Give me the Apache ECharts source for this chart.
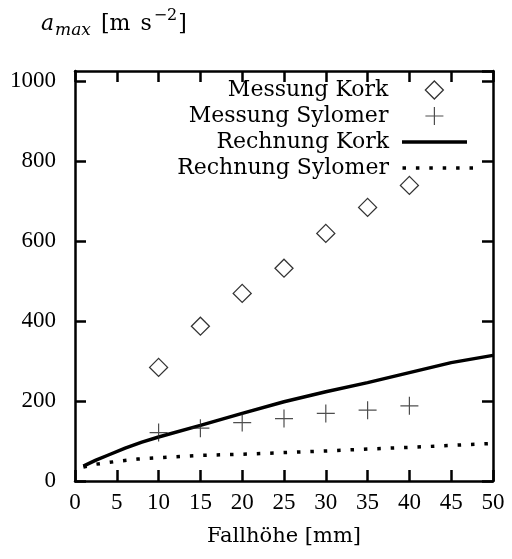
<!DOCTYPE html>
<html>
<head>
<meta charset="utf-8">
<script src="https://cdn.jsdelivr.net/npm/echarts@6.0.0/dist/echarts.min.js"></script>
<style>
  html, body { margin: 0; padding: 0; background: #fff; }
  #chart { width: 512px; height: 559px; }
</style>
</head>
<body>
<div id="chart"></div>
<script>
// Messwerte (Fallhöhe in mm)
var measX = [10, 15, 20, 25, 30, 35, 40];
var measKork = [284, 387, 469, 532, 619, 684, 739];
var measSylomer = [121, 132, 146, 156, 169, 177, 188];

// Rechnung
var calcKorkX = [1, 2.5, 4, 6, 8, 10, 15, 20, 25, 30, 35, 40, 45, 50];
var calcKork = [37, 52, 65, 82, 97, 110, 139, 169, 198, 223, 246, 271, 296, 314];
var calcSylX = [1, 2.5, 5, 7.5, 10, 15, 20, 25, 30, 35, 40, 45, 50];
var calcSylomer = [35, 42, 49, 55, 58, 64, 67, 71, 75, 80, 84, 89, 94];

function pairs(xs, ys) {
  return xs.map(function (x, i) { return [x, ys[i]]; });
}

var serif = "'DejaVu Serif', serif";
var numFont = "'Liberation Serif', serif";
var plusPath = 'path://M0,9H18M9,0V18';
var dotsPath = 'path://M0,0h3.5v3.5h-3.5zM13.4,0h3.5v3.5h-3.5zM26.8,0h3.5v3.5h-3.5zM40.2,0h3.5v3.5h-3.5zM53.6,0h3.5v3.5h-3.5zM67,0h3.5v3.5h-3.5z';

function legendText(pad) {
  return { fontFamily: serif, fontSize: 22, color: '#000', lineHeight: 18, padding: [0, pad, 0, 0] };
}

var axisLine = { show: true, onZero: false, lineStyle: { color: '#000', width: 2.5 } };
var tick = { show: true, inside: true, length: 11, lineStyle: { color: '#000', width: 2.5 } };
var plain = function (v) { return String(v); };

var chart = echarts.init(document.getElementById('chart'));

var option = {
  animation: false,
  backgroundColor: '#fff',
  title: {
    text: '{a|a}{sub|max}{u|[m}{s|s}{sup|−2}{u|]}',
    left: 41,
    top: 8,
    padding: 0,
    textStyle: {
      fontFamily: serif, fontSize: 22, fontWeight: 'normal', color: '#000',
      rich: {
        a: { fontFamily: serif, fontStyle: 'italic', fontWeight: 'normal', fontSize: 22, color: '#000' },
        sub: { fontFamily: serif, fontStyle: 'italic', fontWeight: 'normal', fontSize: 17, color: '#000', padding: [13, 10, 0, 1] },
        u: { fontFamily: serif, fontWeight: 'normal', fontSize: 22, color: '#000' },
        s: { fontFamily: serif, fontWeight: 'normal', fontSize: 22, color: '#000', padding: [0, 0, 0, 10] },
        sup: { fontFamily: serif, fontWeight: 'normal', fontSize: 16, color: '#000', padding: [0, 1, 16, 2] }
      }
    }
  },
  legend: [
    {
      data: ['Messung Kork'], selectedMode: false, padding: 0,
      right: 68, top: 79, align: 'right',
      icon: 'diamond', itemWidth: 18, itemHeight: 18,
      itemStyle: { color: '#fff', borderColor: '#000', borderWidth: 1.3 },
      textStyle: legendText(32)
    },
    {
      data: ['Messung Sylomer'], selectedMode: false, padding: 0,
      right: 68, top: 105, align: 'right',
      icon: plusPath, itemWidth: 18, itemHeight: 18,
      itemStyle: { color: 'rgba(0,0,0,0)', borderColor: '#222', borderWidth: 1.2 },
      textStyle: legendText(32)
    },
    {
      data: ['Rechnung Kork'], selectedMode: false, padding: 0,
      right: 45, top: 131, align: 'right',
      icon: 'rect', itemWidth: 65, itemHeight: 3.5,
      itemStyle: { color: '#000', borderWidth: 0 },
      textStyle: legendText(8)
    },
    {
      data: ['Rechnung Sylomer'], selectedMode: false, padding: 0,
      right: 39, top: 157, align: 'right',
      icon: dotsPath, itemWidth: 70.5, itemHeight: 3.5,
      itemStyle: { color: '#000', borderWidth: 0 },
      textStyle: legendText(8.5)
    }
  ],
  grid: { left: 75, right: 19, top: 71, bottom: 78 },
  xAxis: [
    {
      type: 'value', min: 0, max: 50, interval: 5, position: 'bottom',
      axisLine: axisLine, axisTick: tick, splitLine: { show: false },
      axisLabel: { color: '#000', fontFamily: numFont, fontSize: 23, margin: 10, formatter: plain },
      name: 'Fallhöhe [mm]', nameLocation: 'middle', nameGap: 45,
      nameTextStyle: { fontFamily: serif, fontSize: 21, color: '#000' }
    },
    {
      type: 'value', min: 0, max: 50, interval: 5, position: 'top',
      axisLine: axisLine, axisTick: tick, splitLine: { show: false },
      axisLabel: { show: false }
    }
  ],
  yAxis: [
    {
      type: 'value', min: 0, max: 1025, interval: 200, position: 'left',
      axisLine: axisLine, axisTick: tick, splitLine: { show: false },
      axisLabel: { color: '#000', fontFamily: numFont, fontSize: 23, margin: 19, showMaxLabel: false, formatter: plain }
    },
    {
      type: 'value', min: 0, max: 1025, interval: 200, position: 'right',
      axisLine: axisLine, axisTick: tick, splitLine: { show: false },
      axisLabel: { show: false }
    }
  ],
  series: [
    {
      name: 'Messung Kork', type: 'scatter',
      data: pairs(measX, measKork),
      symbol: 'diamond', symbolSize: 18,
      itemStyle: { color: '#fff', borderColor: '#000', borderWidth: 1.3 },
      z: 4
    },
    {
      name: 'Messung Sylomer', type: 'scatter',
      data: pairs(measX, measSylomer),
      symbol: plusPath, symbolSize: 18,
      itemStyle: { color: 'rgba(0,0,0,0)', borderColor: '#222', borderWidth: 1.2 },
      z: 4
    },
    {
      name: 'Rechnung Kork', type: 'line',
      data: pairs(calcKorkX, calcKork),
      showSymbol: false, color: '#000',
      lineStyle: { color: '#000', width: 3.5 }
    },
    {
      name: 'Rechnung Sylomer', type: 'line',
      data: pairs(calcSylX, calcSylomer),
      showSymbol: false, color: '#000',
      lineStyle: { color: '#000', width: 3.5, type: [3.5, 9.9], cap: 'butt' }
    }
  ]
};

chart.setOption(option);
</script>
</body>
</html>
